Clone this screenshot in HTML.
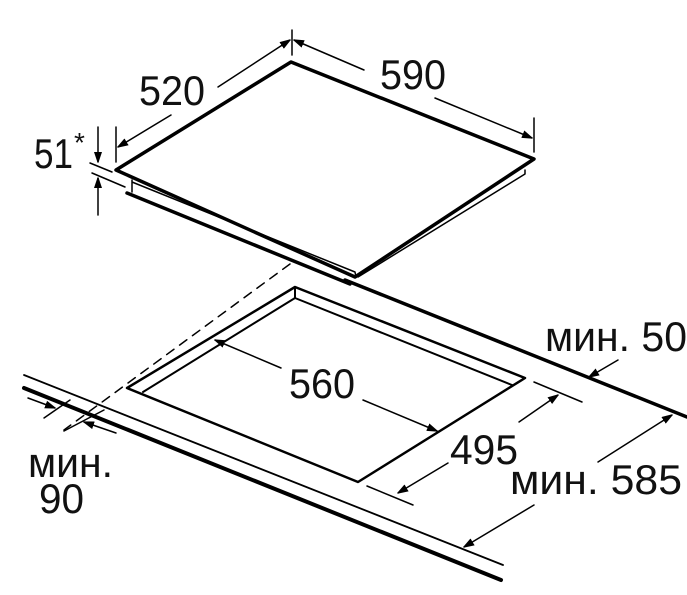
<!DOCTYPE html>
<html><head><meta charset="utf-8"><style>html,body{margin:0;padding:0;background:#fff}svg{display:block}</style></head><body>
<svg width="687" height="595" viewBox="0 0 687 595" xmlns="http://www.w3.org/2000/svg">
<defs><marker id="a" markerWidth="10" markerHeight="8" refX="10" refY="4" orient="auto" markerUnits="userSpaceOnUse"><path d="M0,0L12,4L0,8z" fill="#000"/></marker></defs>
<g fill="none" stroke="#000" stroke-linecap="round" stroke-linejoin="round">
<!-- hob top -->
<path d="M116,170 L291,62 L534,159 L355,277 Z" stroke-width="3.5"/>
<path d="M132,180 L132,192 M132,182 L355,272 L356,277 M525,170 L525,174 L358,277" stroke-width="1.5"/>
<path d="M127,193 L350,284" stroke-width="3.5"/>
<!-- dims 590/520 -->
<path d="M292,30 V55 M534,118 V152 M116,127 V162" stroke-width="1.5"/>
<path d="M364,70 L294,40" stroke-width="1.5" marker-end="url(#a)"/>
<path d="M435,98 L532,138" stroke-width="1.5" marker-end="url(#a)"/>
<path d="M171,115 L118,147" stroke-width="1.5" marker-end="url(#a)"/>
<path d="M218,87 L290,40" stroke-width="1.5" marker-end="url(#a)"/>
<!-- 51 -->
<path d="M90,163 L112,172 M92,173 L125,187" stroke-width="1.5"/>
<path d="M98,127 L98,162" stroke-width="1.5" marker-end="url(#a)"/>
<path d="M98,215 L98,178" stroke-width="1.5" marker-end="url(#a)"/>
<!-- countertop -->
<path d="M345,280 L687,417" stroke-width="3.5"/>
<path d="M290,264 L64,430" stroke-width="1.5" stroke-dasharray="9,7"/>
<path d="M24,375 L503,565" stroke-width="1.8"/>
<path d="M24,388 L501,580" stroke-width="4"/>
<!-- cutout -->
<path d="M295,287 L525,378 L358,482 L127,388 Z" stroke-width="2.5"/>
<path d="M295,287 V298 L512,385 M295,298 L143,392" stroke-width="2"/>
<!-- min 90 -->
<path d="M44,418 L70,400 M64,431 L104,410" stroke-width="1.5"/>
<path d="M28,398 L55,408" stroke-width="1.5" marker-end="url(#a)"/>
<path d="M116,433 L84,422" stroke-width="1.5" marker-end="url(#a)"/>
<!-- 560 -->
<path d="M281,368 L215,340" stroke-width="1.5" marker-end="url(#a)"/>
<path d="M363,400 L437,431" stroke-width="1.5" marker-end="url(#a)"/>
<!-- 495 -->
<path d="M534,382 L582,402 M367,486 L413,505" stroke-width="1.5"/>
<path d="M519,422 L558,395" stroke-width="1.5" marker-end="url(#a)"/>
<path d="M448,463 L398,493" stroke-width="1.5" marker-end="url(#a)"/>
<!-- min 50 -->
<path d="M618,360 L589,377" stroke-width="1.5" marker-end="url(#a)"/>
<!-- min 585 -->
<path d="M598,462 L672,415" stroke-width="1.5" marker-end="url(#a)"/>
<path d="M534,505 L464,547" stroke-width="1.5" marker-end="url(#a)"/>
</g>
<g font-family="Liberation Sans, sans-serif" font-size="42" fill="#111">
<text x="139" y="105" textLength="66" lengthAdjust="spacingAndGlyphs">520</text>
<text x="380" y="89" textLength="66" lengthAdjust="spacingAndGlyphs">590</text>
<text x="34" y="168" textLength="39" lengthAdjust="spacingAndGlyphs">51</text>
<text x="74" y="152" font-size="28">*</text>
<text x="289" y="398" textLength="66" lengthAdjust="spacingAndGlyphs">560</text>
<text x="450" y="464" textLength="68" lengthAdjust="spacingAndGlyphs">495</text>
<text x="545" y="351" textLength="142" lengthAdjust="spacingAndGlyphs">мин. 50</text>
<text x="510" y="494" textLength="172" lengthAdjust="spacingAndGlyphs">мин. 585</text>
<text x="28" y="477" textLength="85" lengthAdjust="spacingAndGlyphs">мин.</text>
<text x="39" y="513" textLength="45" lengthAdjust="spacingAndGlyphs">90</text>
</g>
</svg>
</body></html>
